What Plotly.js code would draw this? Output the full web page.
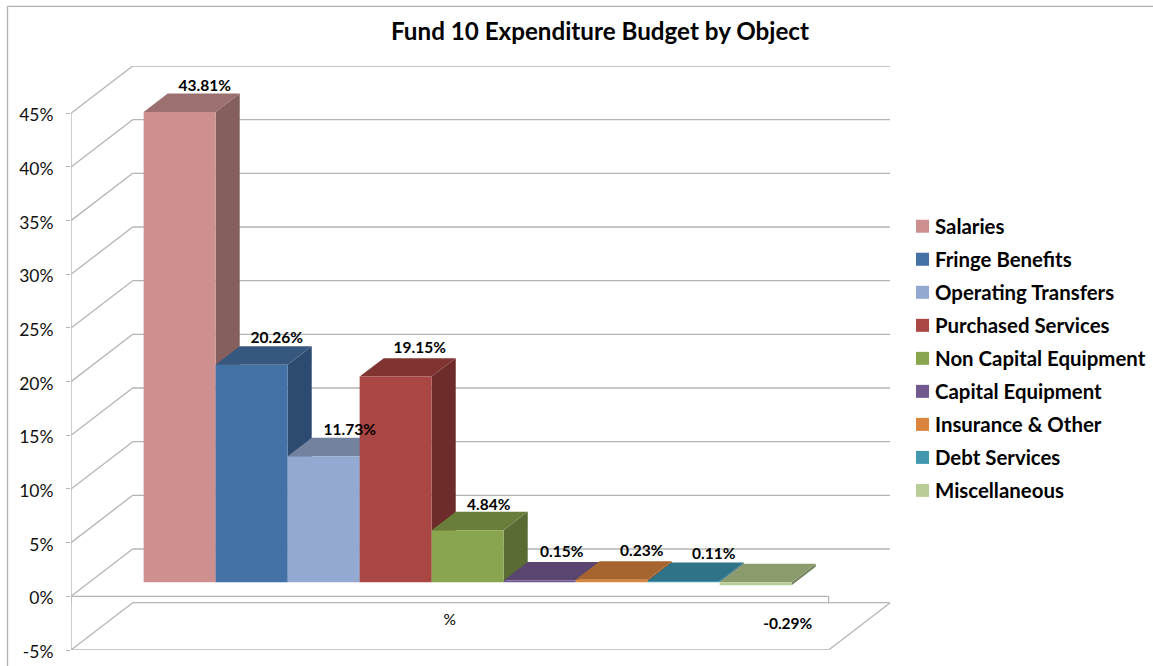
<!DOCTYPE html>
<html>
<head>
<meta charset="utf-8">
<script src="https://cdn.plot.ly/plotly-3.0.1.min.js"></script>
<style>html,body{margin:0;padding:0;background:#fff}</style>
</head>
<body>
<div id="chart" style="width:1153px;height:666px"></div>
<script>
// Fund 10 expenditure shares, by object of spending (percent)
const categories = ['Salaries','Fringe Benefits','Operating Transfers','Purchased Services','Non Capital Equipment','Capital Equipment','Insurance & Other','Debt Services','Miscellaneous'];
const shares = [43.81, 20.26, 11.73, 19.15, 4.84, 0.15, 0.23, 0.11, -0.29];
const yTicks = [-5, 0, 5, 10, 15, 20, 25, 30, 35, 40, 45];

const frontColors = ['#CE8F8F','#4472A6','#94A9D1','#AA4643','#89A54E','#71588F','#DB843D','#4198AF','#B9CD96'];
const topColors   = ['#9C7070','#36587F','#72829F','#7F3431','#6A7E3B','#5A4570','#A6642E','#2F7389','#8B9B6E'];
const sideColors  = ['#845F5E','#2D4B70','#5D6C88','#6D2B2A','#5A6C33','#4A3A5E','#8F5A28','#2B6373','#77865F'];

// Label offsets from the centre of each bar's back top edge, in pixels
const labelDx = [1, 1, 2, 0, -3, -2, 6, 6, 8];
const labelDy = [-6, -7, -7, -9, -6, -9, -9.5, -7, 61];

// Oblique projection of the 3D box: depth 0 is the front of the floor, depth 1 the back wall
const PX_X = 72, PX_Y = 10.73;
const DEPTH_X = 61.7 / PX_X, DEPTH_Y = 47.3 / PX_Y;
const BAR_FRONT = 0.30, BAR_BACK = 0.69;
const X_LEFT = -0.752, X_RIGHT = X_LEFT + 757.6 / PX_X;
const px = (x, d) => x + d * DEPTH_X;
const py = (v, d) => v + d * DEPTH_Y;

const FONT = 'Lato, Carlito, "Open Sans", sans-serif';
const GRID = '#B4B4B4';

const traces = [];

// Walls and floor
const wx = [], wy = [];
const seg = (a, b) => { wx.push(a[0], b[0], null); wy.push(a[1], b[1], null); };
yTicks.forEach(v => {
  seg([px(X_LEFT, 0), py(v, 0)], [px(X_LEFT, 1), py(v, 1)]);
  seg([px(X_LEFT, 1), py(v, 1)], [px(X_RIGHT, 1), py(v, 1)]);
});
seg([X_LEFT, py(-5, 0)], [X_LEFT, py(45, 0)]);
seg([X_LEFT, py(-5, 0)], [X_RIGHT, py(-5, 0)]);
seg([X_RIGHT, py(-5, 0)], [px(X_RIGHT, 1), py(-5, 1)]);
seg([X_LEFT, py(0, 0)], [X_RIGHT, py(0, 0)]);
seg([X_LEFT, py(0, 0)], [X_LEFT, py(-0.65, 0)]);
seg([X_RIGHT, py(0, 0)], [X_RIGHT, py(-0.65, 0)]);
traces.push({x: wx, y: wy, mode: 'lines', line: {color: GRID, width: 1.3}, hoverinfo: 'skip', showlegend: false});

// Bars, drawn left to right so each one covers the side of its neighbour
const face = (xs, ys, color, name) => ({
  x: xs, y: ys, mode: 'none', fill: 'toself', fillcolor: color, name: name,
  hoverinfo: 'skip', showlegend: false
});
shares.forEach((v, i) => {
  const hi = Math.max(v, 0), lo = Math.min(v, 0);
  const l = i, r = i + 1;
  traces.push(face(
    [px(r, BAR_FRONT), px(r, BAR_BACK), px(r, BAR_BACK), px(r, BAR_FRONT)],
    [py(lo, BAR_FRONT), py(lo, BAR_BACK), py(hi, BAR_BACK), py(hi, BAR_FRONT)],
    sideColors[i], categories[i]));
  traces.push(face(
    [px(l, BAR_FRONT), px(r, BAR_FRONT), px(r, BAR_BACK), px(l, BAR_BACK)],
    [py(hi, BAR_FRONT), py(hi, BAR_FRONT), py(hi, BAR_BACK), py(hi, BAR_BACK)],
    topColors[i], categories[i]));
  traces.push(face(
    [px(l, BAR_FRONT), px(r, BAR_FRONT), px(r, BAR_FRONT), px(l, BAR_FRONT)],
    [py(lo, BAR_FRONT), py(lo, BAR_FRONT), py(hi, BAR_FRONT), py(hi, BAR_FRONT)],
    frontColors[i], categories[i]));
});

// Value labels
traces.push({
  x: shares.map((v, i) => px(i + 0.5, BAR_BACK) + labelDx[i] / PX_X),
  y: shares.map((v, i) => py(Math.max(v, 0), BAR_BACK) - labelDy[i] / PX_Y),
  text: shares.map(v => v.toFixed(2) + '%'),
  mode: 'text', textposition: 'middle center',
  textfont: {family: FONT, size: 15.5, color: '#000', weight: 700},
  cliponaxis: false, hoverinfo: 'skip', showlegend: false
});

// Category label under the floor
traces.push({
  x: [(X_LEFT + X_RIGHT) / 2], y: [py(-2.3, 0)], text: ['%'],
  mode: 'text', textposition: 'middle center',
  textfont: {family: FONT, size: 15.5, color: '#000'},
  hoverinfo: 'skip', showlegend: false
});

// Legend entries
categories.forEach((name, i) => {
  traces.push({
    x: [null], y: [null], name: name, legendgroup: name,
    mode: 'markers', marker: {symbol: 'square', size: 13, color: frontColors[i]},
    hoverinfo: 'skip', showlegend: true
  });
});

const PLOT_L = 71, PLOT_W = 819, PLOT_T = 66.2, PLOT_H = 583.8;
const layout = {
  width: 1153, height: 666,
  paper_bgcolor: '#fff', plot_bgcolor: 'rgba(0,0,0,0)',
  margin: {l: PLOT_L, r: 1153 - PLOT_L - PLOT_W, t: PLOT_T, b: 666 - PLOT_T - PLOT_H, pad: 0},
  title: {
    text: 'Fund 10 Expenditure Budget by Object',
    x: 600 / 1153, xanchor: 'center', y: 1 - 32 / 666, yanchor: 'middle',
    font: {family: FONT, size: 24.2, color: '#000', weight: 700}
  },
  xaxis: {range: [X_LEFT, X_LEFT + PLOT_W / PX_X], visible: false, fixedrange: true},
  yaxis: {
    range: [-5, 45 + DEPTH_Y], tickmode: 'array', tickvals: yTicks,
    ticktext: yTicks.map(t => t + '%'),
    ticks: 'outside', ticklen: 4, tickwidth: 1.3, tickcolor: GRID,
    ticklabelstandoff: 9, ticklabelshift: 2,
    tickfont: {family: FONT, size: 17.5, color: '#111'},
    showgrid: false, zeroline: false, showline: false, fixedrange: true
  },
  legend: {
    xref: 'container', yref: 'container',
    x: 895 / 1153, xanchor: 'left',
    y: 1 - 206.5 / 666, yanchor: 'top',
    font: {family: FONT, size: 20.4, color: '#000', weight: 700},
    tracegroupgap: 3.5, bgcolor: 'rgba(0,0,0,0)',
    itemclick: false, itemdoubleclick: false
  },
  // Chart area border, open at the right and bottom
  shapes: [
    {type: 'line', xref: 'paper', yref: 'paper',
     x0: (7.5 - PLOT_L) / PLOT_W, x1: (7.5 - PLOT_L) / PLOT_W,
     y0: (PLOT_T + PLOT_H - 666) / PLOT_H, y1: (PLOT_T + PLOT_H - 6.5) / PLOT_H,
     line: {color: '#B0B0B0', width: 1.3}},
    {type: 'line', xref: 'paper', yref: 'paper',
     x0: (7.5 - PLOT_L) / PLOT_W, x1: (1153 - PLOT_L) / PLOT_W,
     y0: (PLOT_T + PLOT_H - 6.5) / PLOT_H, y1: (PLOT_T + PLOT_H - 6.5) / PLOT_H,
     line: {color: '#B0B0B0', width: 1.3}}
  ]
};

// Legend swatches sit closer to their text than the default item width allows
const tightenLegend = gd => {
  gd.querySelectorAll('.legend .legendpoints').forEach(g => g.setAttribute('transform', 'translate(7.5,0)'));
};

Plotly.newPlot('chart', traces, layout, {displayModeBar: false, responsive: false}).then(gd => {
  tightenLegend(gd);
  gd.on('plotly_afterplot', () => tightenLegend(gd));
});
</script>
</body>
</html>
